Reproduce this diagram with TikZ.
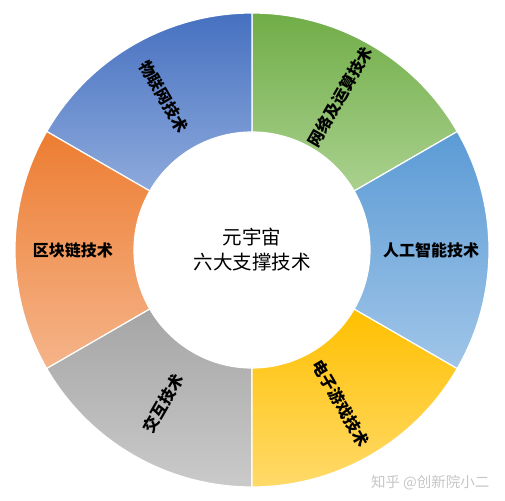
\documentclass[tikz,border=0pt]{standalone}
\usepackage{fontspec}
\newfontfamily\cjk{Noto Sans CJK SC}
\definecolor{iotA}{HTML}{4671C0}
\definecolor{iotB}{HTML}{8EAADC}
\definecolor{netA}{HTML}{70AD47}
\definecolor{netB}{HTML}{AAD18F}
\definecolor{aiA}{HTML}{5B9BD5}
\definecolor{aiB}{HTML}{A0C5E8}
\definecolor{gameA}{HTML}{FFC000}
\definecolor{gameB}{HTML}{FFDA6A}
\definecolor{hciA}{HTML}{A5A5A5}
\definecolor{hciB}{HTML}{CACACA}
\definecolor{chainA}{HTML}{ED7D31}
\definecolor{chainB}{HTML}{F5B48A}
\tikzset{
  sector/.style={draw=white, line width=1.2pt},
  techlabel/.style={font=\cjk\bfseries\fontsize{16}{18}\selectfont, text=black},
  hub/.style={font=\cjk\fontsize{19.5}{25}\selectfont, align=center},
}

\begin{document}
\begin{tikzpicture}[x=1pt, y=1pt]
    \useasboundingbox (-252,-250) rectangle (253,250);
    \def\rin{118}
    \def\rout{237}
    % six ring sectors, each shaded from top to bottom
    \foreach \a/\ca/\cb in {30/netA/netB, 90/iotA/iotB, 150/chainA/chainB,
                            210/hciA/hciB, 270/gameA/gameB, -30/aiA/aiB}
      \shadedraw[sector, top color=\ca, bottom color=\cb]
        (\a:\rin) -- (\a:\rout) arc[start angle=\a, end angle={\a+60}, radius=\rout]
        -- ({\a+60}:\rin) arc[start angle={\a+60}, end angle=\a, radius=\rin] -- cycle;

    \node[hub] (meta) at (0,0) {元宇宙\\六大支撑技术};

    \node[techlabel, rotate=-60] (iot) at (120:177) {物联网技术};
    \node[techlabel, rotate=60] (net) at (60:177) {网络及运算技术};
    \node[techlabel] (ai) at (0:179) {人工智能技术};
    \node[techlabel, rotate=-60] (game) at (-60:177) {电子游戏技术};
    \node[techlabel, rotate=60] (hci) at (240:177) {交互技术};
    \node[techlabel] (chain) at (180:179) {区块链技术};

    \node[font=\cjk\fontsize{14.5}{16}\selectfont, text=gray!45, anchor=east] (mark) at (241,-233) {知乎 @创新院小二};
\end{tikzpicture}
\end{document}
